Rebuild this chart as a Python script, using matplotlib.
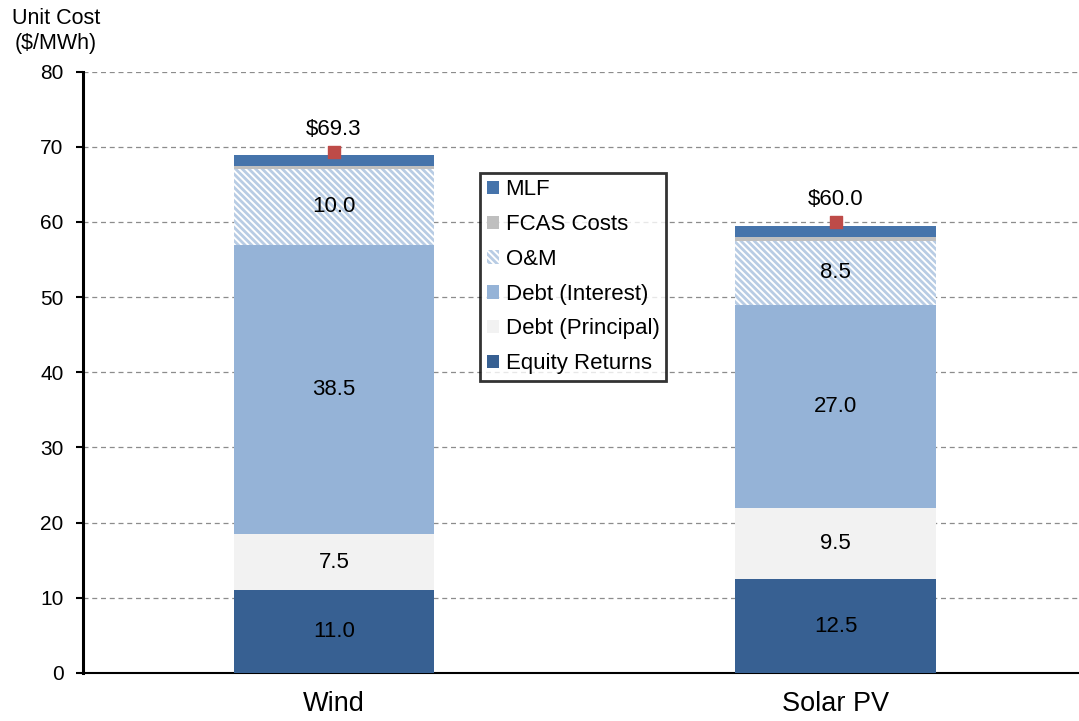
import matplotlib.pyplot as plt
import numpy as np

plt.rcParams['font.family'] = ['Arial', 'Liberation Sans', 'DejaVu Sans']
plt.rcParams['hatch.linewidth'] = 2.0

# 数据
categories = ['Wind', 'Solar PV']
equity = [11.0, 12.5]
principal = [7.5, 9.5]
interest = [38.5, 27.0]
om = [10.0, 8.5]
fcas = [0.4, 0.5]
mlf = [1.5, 1.5]
totals = [69.3, 60.0]

series_names = ['Equity Returns', 'Debt (Principal)', 'Debt (Interest)', 'O&M', 'FCAS Costs', 'MLF']
series_vals = [equity, principal, interest, om, fcas, mlf]
label_series = [True, True, True, True, False, False]
colors = {'Equity Returns': '#376092', 'Debt (Principal)': '#F2F2F2',
          'Debt (Interest)': '#95B3D7', 'FCAS Costs': '#BFBFBF', 'MLF': '#4674AB'}

fig = plt.figure(figsize=(10.79, 7.21), dpi=100)
ax = fig.add_axes([0.077, 0.0666, 0.93, 0.834])

x = np.arange(len(categories))
width = 0.4
bottom = np.zeros(len(categories))
handles = []
for name, vals, show in zip(series_names, series_vals, label_series):
    vals = np.array(vals)
    if name == 'O&M':
        b = ax.bar(x, vals, width, bottom=bottom, color='white', edgecolor='#B8CCE4',
                   hatch='\\\\\\\\\\', linewidth=0, label=name, zorder=3)
    else:
        b = ax.bar(x, vals, width, bottom=bottom, color=colors[name], linewidth=0,
                   label=name, zorder=3)
    if show:
        for xi, bi, v in zip(x, bottom, vals):
            ax.text(xi, bi + v / 2, f'{v:.1f}', ha='center', va='center', fontsize=16,
                    color='black', zorder=5)
    handles.append(b)
    bottom = bottom + vals

# 总计标记
ax.scatter(x, totals, marker='s', s=75, color='#BE4B48', zorder=6)
for xi, t in zip(x, totals):
    ax.text(xi, t + 1.6, f'${t:.1f}', ha='center', va='bottom', fontsize=16)

ax.set_xlim(-0.5, 1.5)
ax.set_ylim(0, 80)
ax.set_yticks(range(0, 81, 10))
ax.set_xticks(x)
ax.set_xticklabels(categories, fontsize=19.5)
ax.tick_params(axis='y', labelsize=15, direction='out', length=5, width=1.5, pad=9)
ax.tick_params(axis='x', length=0, pad=13)
ax.yaxis.grid(True, linestyle=(0, (4, 3)), color='#8C8C8C', linewidth=0.9, zorder=0)
ax.set_axisbelow(True)
for s in ['top', 'right']:
    ax.spines[s].set_visible(False)
ax.spines['left'].set_linewidth(2.2)
ax.spines['bottom'].set_linewidth(1.5)

fig.text(0.052, 0.957, 'Unit Cost\n($/MWh)', ha='center', va='center', fontsize=15.5,
         linespacing=1.25)

leg = ax.legend(handles[::-1], series_names[::-1], loc='upper left',
                bbox_to_anchor=(0.3955, 0.832), fontsize=16, frameon=True,
                fancybox=False, edgecolor='black', handlelength=0.55, handleheight=0.55,
                handletextpad=0.3, labelspacing=0.62, borderpad=0.3, borderaxespad=0)
leg.get_frame().set_linewidth(2)

fig.savefig('out.png', dpi=100)
